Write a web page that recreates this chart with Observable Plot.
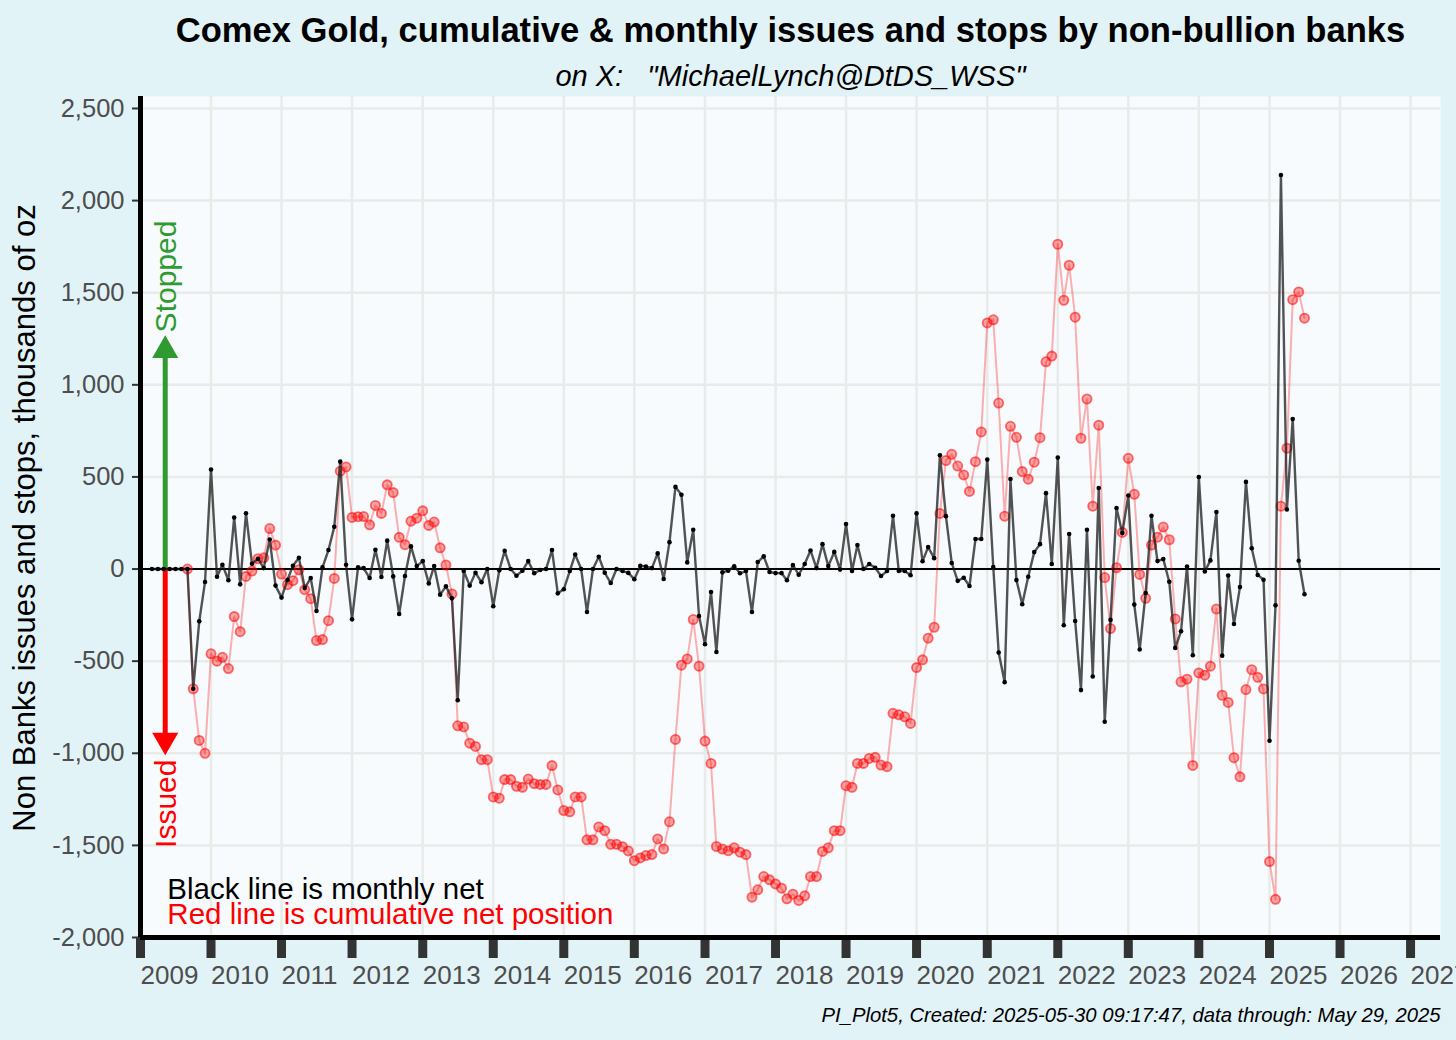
<!DOCTYPE html>
<html><head><meta charset="utf-8">
<script src="https://cdn.jsdelivr.net/npm/d3@7"></script>
<script src="https://cdn.jsdelivr.net/npm/@observablehq/plot@0.6"></script>
<style>
html,body{margin:0;padding:0;background:#e2f3f8;overflow:hidden;}
</style></head><body><div id="chart"></div>
<script>
// ---- data ----
const monthlyStart = [2009, 3];     // first month of the monthly net series (year, month)
const cumulativeStart = [2009, 9];  // first month of the cumulative series
const monthlyNet = [0,0,0,0,0,0,0,
 -650,-284,-70,540,-42,23,-61,280,-83,303,29,56,5,160,-90,-155,-58,18,61,-103,-49,-228,9,103,
 229,583,23,-273,9,5,-49,105,-43,154,-40,-244,-38,123,16,43,-78,16,-139,-94,-159,-712,-11,-90,-20,-72,
 0,-202,-7,99,0,-36,-9,43,-23,-5,0,103,-132,-110,-11,79,0,-233,0,67,-20,-76,0,-11,-21,-55,
 17,14,5,85,-54,146,446,403,36,213,-255,-408,-125,-450,-18,-9,15,-23,-11,-233,38,69,-16,-22,
 -22,-61,22,-31,27,101,5,135,16,93,-3,244,-11,130,0,27,7,-38,-11,289,-11,-11,-34,302,42,119,
 59,618,287,33,-64,-47,-92,163,163,594,11,-453,-614,489,-60,-191,-42,92,135,412,27,605,-305,190,
 -282,-657,213,-583,440,-829,-276,331,195,399,-193,-437,-130,289,43,54,-69,-428,-338,14,-468,500,-13,47,
 309,-470,-35,-298,-98,473,113,-32,-58,-932,-197,2139,323,814,45,-137];
const cumulativeNet = [0,
 -650,-930,-1000,-460,-500,-479,-540,-258,-340,-40,-11,56,61,220,130,-27,-85,-63,-4,-112,-161,-388,-383,-280,
 -51,531,554,280,284,285,240,345,302,457,415,172,132,260,276,316,237,255,115,22,-135,-851,-857,-945,-963,-1035,
 -1035,-1237,-1244,-1143,-1143,-1179,-1185,-1140,-1165,-1169,-1169,-1067,-1199,-1311,-1318,-1237,-1237,-1470,-1470,-1400,-1420,-1494,-1494,-1507,-1530,-1583,
 -1568,-1555,-1550,-1465,-1519,-1372,-925,-522,-488,-274,-527,-934,-1055,-1506,-1520,-1529,-1513,-1537,-1550,-1781,-1741,-1669,-1687,-1709,
 -1732,-1790,-1765,-1799,-1774,-1669,-1669,-1533,-1513,-1420,-1420,-1176,-1185,-1055,-1055,-1028,-1022,-1064,-1073,-783,-791,-802,-838,-535,-493,-375,
 -316,302,589,623,559,511,421,583,744,1336,1353,901,287,775,715,529,488,580,713,1125,1156,1763,1459,1649,
 1367,710,923,341,781,-46,-323,7,199,601,406,-29,-159,130,173,228,159,-271,-612,-598,-1066,-564,-576,-527,
 -217,-685,-724,-1024,-1128,-654,-546,-588,-651,-1588,-1793,341,656,1462,1504,1362];
const yTicks = [-2000,-1500,-1000,-500,0,500,1000,1500,2000,2500];
const xTickYears = [2009,2010,2011,2012,2013,2014,2015,2016,2017,2018,2019,2020,2021,2022,2023,2024,2025,2026,2027];

const titleText = ["Comex Gold, cumulative & monthly issues and stops by non-bullion banks"];
const subtitleText = ["on X:   \"MichaelLynch@DtDS_WSS\""];
const captionText = ["PI_Plot5, Created: 2025-05-30 09:17:47, data through: May 29, 2025"];
const yLabelText = ["Non Banks issues and stops, thousands of oz"];
const noteLabels = ["Black line is monthly net", "Red line is cumulative net position"];
const arrowLabels = ["Stopped", "Issued"];

// ---- build tables ----
const monthDate = (start, k) => new Date(Date.UTC(start[0], start[1] - 1 + k, 1));
const monthly = monthlyNet.map((v, k) => ({date: monthDate(monthlyStart, k), value: v}));
const cumulative = cumulativeNet.map((v, k) => ({date: monthDate(cumulativeStart, k), value: v}));
const xTicks = xTickYears.map(y => new Date(Date.UTC(y, 0, 1)));
const xDomain = [new Date(Date.UTC(2009, 0, 1)), new Date(Date.UTC(2027, 5, 5))];

// annotation placement (data units)
const annX = new Date(Date.UTC(2009, 4, 9));
const noteX = new Date(Date.UTC(2009, 4, 20));
const arrows = [
  {label: arrowLabels[0], color: "#2f9a2f", y2: 1150, head: 1187, rotate: 0, textY: 1588},
  {label: arrowLabels[1], color: "#ff0000", y2: -900, head: -929, rotate: 180, textY: -1274}
];
const notes = [
  {label: noteLabels[0], color: "#000000", y: -1738},
  {label: noteLabels[1], color: "#ff0000", y: -1874}
];

const font = '"Liberation Sans", Arial, Helvetica, sans-serif';
const fmtY = d => d3.format(",")(d).replace("\u2212", "-");

const chart = Plot.plot({
  width: 1456, height: 1040,
  marginLeft: 140, marginRight: 16, marginTop: 96, marginBottom: 103,
  style: {background: "#e2f3f8", fontFamily: font, overflow: "hidden"},
  x: {type: "utc", domain: xDomain, label: null},
  y: {domain: [-2000, 2565], label: null},
  marks: [
    Plot.frame({fill: "#f7fbfd", stroke: null}),
    Plot.gridY(yTicks, {stroke: "#e9eaea", strokeOpacity: 1, strokeWidth: 2.5}),
    Plot.gridX(xTicks, {stroke: "#e9eaea", strokeOpacity: 1, strokeWidth: 2.5}),
    Plot.axisY(yTicks, {tickSize: 8, tickPadding: 8, tickFormat: fmtY, fontSize: 25.5, color: "#4d4d4d", stroke: "#333", strokeWidth: 2, label: null}),
    Plot.axisX(xTicks, {tickSize: 21, tickPadding: 7, strokeWidth: 9, stroke: "#333", color: "#4d4d4d", tickFormat: d3.utcFormat("%Y"), textAnchor: "start", fontSize: 26, label: null}),
    Plot.ruleY([0], {stroke: "black", strokeWidth: 2}),
    Plot.ruleX(arrows, {x: () => annX, y1: () => 0, y2: "y2", stroke: "color", strokeWidth: 5}),
    Plot.dot(arrows, {x: () => annX, y: "head", symbol: "triangle", r: 9.7, fill: "color", stroke: null, rotate: "rotate"}),
    Plot.line(cumulative, {x: "date", y: "value", stroke: "#ff0000", strokeOpacity: 0.3, strokeWidth: 2}),
    Plot.dot(cumulative, {x: "date", y: "value", r: 4.6, fill: "#ff0000", fillOpacity: 0.35, stroke: "#ff0000", strokeOpacity: 0.55, strokeWidth: 1.8}),
    Plot.line(monthly, {x: "date", y: "value", stroke: "#1a1a1a", strokeOpacity: 0.75, strokeWidth: 2.4}),
    Plot.dot(monthly, {x: "date", y: "value", r: 2.3, fill: "black", stroke: null}),
    Plot.ruleX([xDomain[0]], {stroke: "black", strokeWidth: 5}),
    Plot.ruleY([-2000], {stroke: "black", strokeWidth: 5}),
    Plot.text(arrows, {x: () => annX, y: "textY", text: "label", fill: "color", rotate: -90, fontSize: 30, dx: 1}),
    Plot.text(notes, {x: () => noteX, y: "y", text: "label", fill: "color", textAnchor: "start", fontSize: 29.5}),
    Plot.text(yLabelText, {text: d => d, frameAnchor: "left", textAnchor: "middle", lineAnchor: "middle", dx: -115, dy: 1, rotate: -90, fontSize: 31, fill: "black"}),
    Plot.text(titleText, {text: d => d, frameAnchor: "top", lineAnchor: "middle", dy: -66, fontSize: 34.6, fontWeight: "bold", fill: "black"}),
    Plot.text(subtitleText, {text: d => d, frameAnchor: "top", lineAnchor: "middle", dy: -20, fontSize: 29, fontStyle: "italic", fill: "black"}),
    Plot.text(captionText, {text: d => d, frameAnchor: "bottom-right", lineAnchor: "middle", dy: 78, textAnchor: "end", fontSize: 20.3, fontStyle: "italic", fill: "black"})
  ]
});
document.getElementById("chart").appendChild(chart);
</script></body></html>
